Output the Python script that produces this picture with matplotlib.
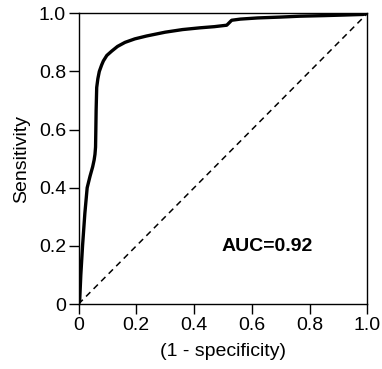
import numpy as np
import matplotlib.pyplot as plt

plt.rcParams['font.family'] = ['Liberation Sans', 'DejaVu Sans']

# ROC curve
fpr = [0.0, 0.004, 0.008, 0.014, 0.022, 0.030, 0.040, 0.049, 0.054, 0.057,
       0.059, 0.060, 0.061, 0.063, 0.067, 0.072, 0.080, 0.086, 0.098, 0.115,
       0.135, 0.161, 0.195, 0.236, 0.30, 0.36, 0.42, 0.47, 0.513, 0.522,
       0.530, 0.56, 0.62, 0.70, 0.766, 0.85, 0.92, 0.985, 1.0]
tpr = [0.0, 0.01, 0.10, 0.20, 0.312, 0.40, 0.44, 0.472, 0.495, 0.515,
       0.54, 0.60, 0.667, 0.745, 0.775, 0.80, 0.822, 0.836, 0.855, 0.870,
       0.886, 0.900, 0.912, 0.922, 0.935, 0.944, 0.950, 0.954, 0.959, 0.968,
       0.976, 0.980, 0.984, 0.987, 0.990, 0.992, 0.994, 0.996, 1.0]
auc_text = "AUC=0.92"

fig = plt.figure(figsize=(3.82, 3.69), dpi=100)
ax = fig.add_axes([0.2055, 0.176, 0.7565, 0.788])

ax.plot([0, 1], [0, 1], color="black", linestyle=(0, (4, 3)), linewidth=1.1)
ax.plot(fpr, tpr, color="black", linewidth=2.4, solid_capstyle="round")

ax.set_xlim(0, 1)
ax.set_ylim(0, 1)
ticks = [0, 0.2, 0.4, 0.6, 0.8, 1.0]
labels = ["0", "0.2", "0.4", "0.6", "0.8", "1.0"]
ax.set_xticks(ticks)
ax.set_xticklabels(labels)
ax.set_yticks(ticks)
ax.set_yticklabels(labels)
ax.tick_params(direction="out", length=7, width=1, labelsize=14, pad=2)
for sp in ax.spines.values():
    sp.set_linewidth(1)

ax.set_xlabel("(1 - specificity)", fontsize=14, labelpad=7)
ax.set_ylabel("Sensitivity", fontsize=14, labelpad=6)
ax.text(0.654, 0.197, auc_text, fontsize=14, fontweight="bold",
        ha="center", va="center")

fig.savefig("out.png", dpi=100)
